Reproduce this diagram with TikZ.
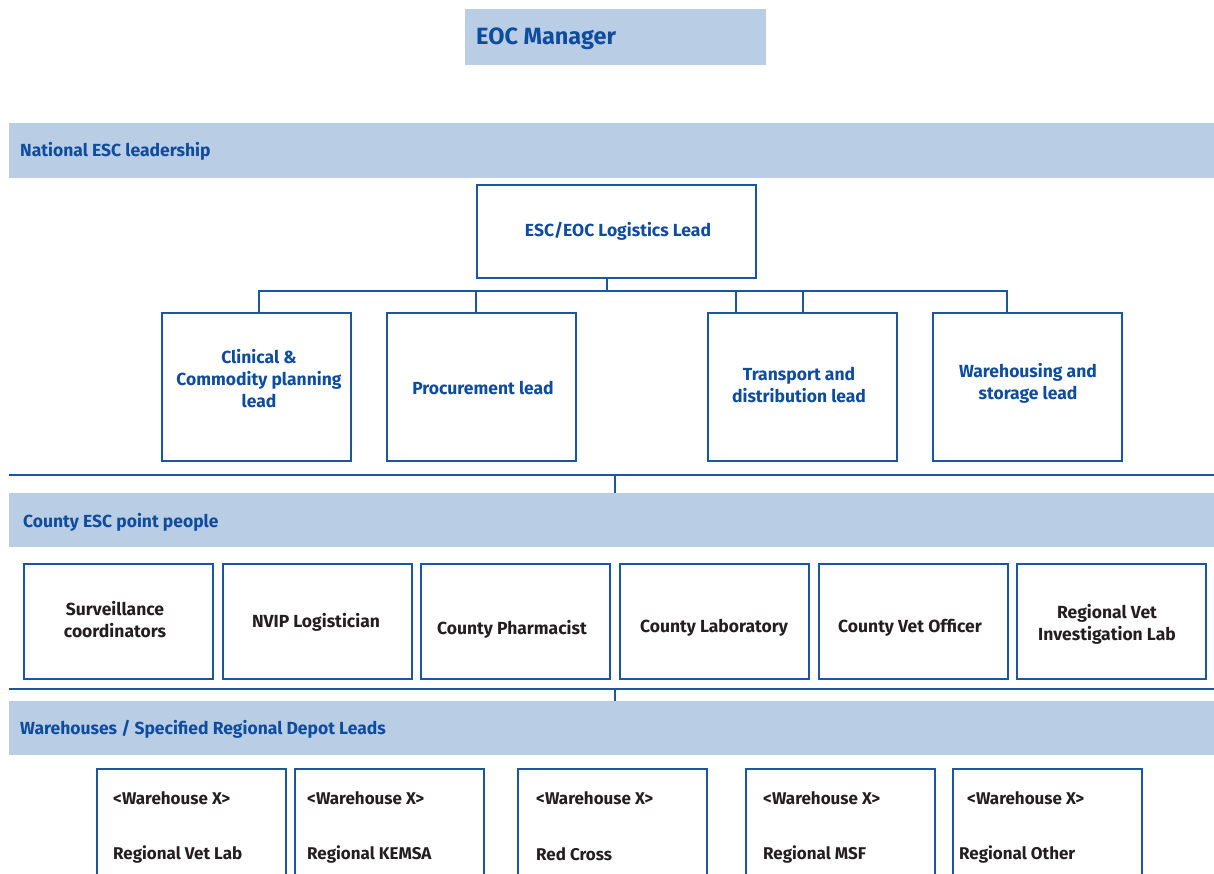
\documentclass[tikz,border=0pt]{standalone}
\usepackage{fontspec}
\setmainfont{Fira Sans}
\usetikzlibrary{calc}
\definecolor{band}{HTML}{B9CDE5}
\definecolor{lblue}{HTML}{1A56A4}
\definecolor{tblue}{HTML}{0E4C9E}
\definecolor{tdark}{HTML}{231F20}
\begin{document}
\begin{tikzpicture}[x=1pt,y=-1pt,
  bandbox/.style={fill=band, draw=none, minimum width=1205pt, minimum height=55pt, inner sep=0pt, anchor=north west},
  boxn/.style={draw=lblue, line width=2.2pt, fill=white, inner sep=0pt, anchor=north west, minimum width=189pt},
  btxt/.style={font=\fontsize{17.5}{22}\selectfont\bfseries, text=tblue, align=center, inner sep=0pt},
  ktxt/.style={font=\fontsize{17.5}{22}\selectfont\bfseries, text=tdark, align=center, inner sep=0pt},
  wtxt/.style={font=\fontsize{17}{22}\selectfont\bfseries, text=tdark, anchor=west, inner sep=0pt},
  hdtxt/.style={font=\fontsize{17.5}{22}\selectfont\bfseries, text=tblue, anchor=west, inner sep=0pt},
  conn/.style={draw=lblue, line width=2pt},
  sepl/.style={draw=lblue, line width=2.6pt}]
\useasboundingbox (0,0) rectangle (1214,873);
\clip (0,0) rectangle (1214,873);
\fill[white] (0,0) rectangle (1214,873);

% EOC manager
\node[fill=band, inner sep=0pt, anchor=north west, minimum width=301pt, minimum height=56pt] (eoc) at (465,9) {};
\node[font=\fontsize{23.5}{28}\selectfont\bfseries, text=tblue, anchor=west, inner sep=0pt] (eocT) at (476,39) {EOC Manager};

% National band
\node[bandbox] (natl) at (9,123) {};
\node[hdtxt] (natlT) at (20,151) {National ESC leadership};

% Logistics lead
\node[boxn, minimum width=279pt, minimum height=93pt] (lead) at (476,184) {};
\node[btxt] (leadT) at (618,231) {ESC/EOC Logistics Lead};

% Leads
\node[boxn, minimum height=148pt] (clin) at (161,312) {};
\node[boxn, minimum height=148pt] (proc) at (386,312) {};
\node[boxn, minimum height=148pt] (trans) at (707,312) {};
\node[boxn, minimum height=148pt] (ware) at (932,312) {};
\node[btxt] (clinT) at (259,379) {Clinical \&\\Commodity planning\\lead};
\node[btxt] (procT) at (483,388) {Procurement lead};
\node[btxt] (transT) at (799,385) {Transport and\\distribution lead};
\node[btxt] (wareT) at (1028,383) {Warehousing and\\storage lead};

% tree connectors
\coordinate (bus) at (0,291);
\draw[conn] ([xshift=-9.5pt]lead.south) -- ([xshift=-9.5pt]lead.south |- bus);
\draw[conn] ([xshift=2.5pt]clin.north) -- ([xshift=2.5pt]clin.north |- bus) -- ([xshift=-20.5pt]ware.north |- bus) -- ([xshift=-20.5pt]ware.north);
\draw[conn] ([xshift=-6pt]proc.north) -- ([xshift=-6pt]proc.north |- bus);
\draw[conn] ([xshift=-66.5pt]trans.north) -- ([xshift=-66.5pt]trans.north |- bus);
\draw[conn] ([xshift=0.5pt]trans.north) -- ([xshift=0.5pt]trans.north |- bus);

% separator 1
\coordinate (s1a) at (9,475);
\coordinate (s1b) at (1214,475);
\coordinate (s1c) at (615,475);
\draw[sepl] (s1a) -- (s1b);

% County band
\node[bandbox, minimum height=54pt] (county) at (9,493) {};
\node[hdtxt] (countyT) at (23,522) {County ESC point people};
\draw[conn] (s1c) -- (s1c |- county.north);

% County boxes
\node[boxn, minimum height=115pt] (surv) at (23,563) {};
\node[boxn, minimum height=115pt] (nvip) at (222,563) {};
\node[boxn, minimum height=115pt] (pharm) at (420,563) {};
\node[boxn, minimum height=115pt] (lab) at (619,563) {};
\node[boxn, minimum height=115pt] (vet) at (818,563) {};
\node[boxn, minimum height=115pt] (rvil) at (1016,563) {};
\node[ktxt] (survT) at (115,620) {Surveillance\\coordinators};
\node[ktxt] (nvipT) at (316,622) {NVIP Logistician};
\node[ktxt] (pharmT) at (512,629) {County Pharmacist};
\node[ktxt] (labT) at (714,628) {County Laboratory};
\node[ktxt] (vetT) at (910,628) {County Vet Officer};
\node[ktxt] (rvilT) at (1107,624) {Regional Vet\\Investigation Lab};

% separator 2
\coordinate (s2a) at (9,689);
\coordinate (s2b) at (1214,689);
\coordinate (s2c) at (615,689);
\draw[sepl] (s2a) -- (s2b);

% Warehouses band
\node[bandbox, minimum height=54pt] (wh) at (9,701) {};
\node[hdtxt] (whT) at (20,729) {Warehouses / Specified Regional Depot Leads};
\draw[conn] (s2c) -- (s2c |- wh.north);

% Warehouse boxes
\node[boxn, minimum height=130pt] (w1) at (96,768) {};
\node[boxn, minimum height=130pt] (w2) at (294,768) {};
\node[boxn, minimum height=130pt] (w3) at (517,768) {};
\node[boxn, minimum height=130pt] (w4) at (745,768) {};
\node[boxn, minimum height=130pt] (w5) at (952,768) {};
\node[wtxt] (w1a) at (113,798) {<Warehouse X>};
\node[wtxt] (w2a) at (307,798) {<Warehouse X>};
\node[wtxt] (w3a) at (536,798) {<Warehouse X>};
\node[wtxt] (w4a) at (763,798) {<Warehouse X>};
\node[wtxt] (w5a) at (967,798) {<Warehouse X>};
\node[wtxt] (w1b) at (113,854) {Regional Vet Lab};
\node[wtxt] (w2b) at (307,854) {Regional KEMSA};
\node[wtxt] (w3b) at (536,854) {Red Cross};
\node[wtxt] (w4b) at (763,854) {Regional MSF};
\node[wtxt] (w5b) at (959,854) {Regional Other};
\end{tikzpicture}
\end{document}
